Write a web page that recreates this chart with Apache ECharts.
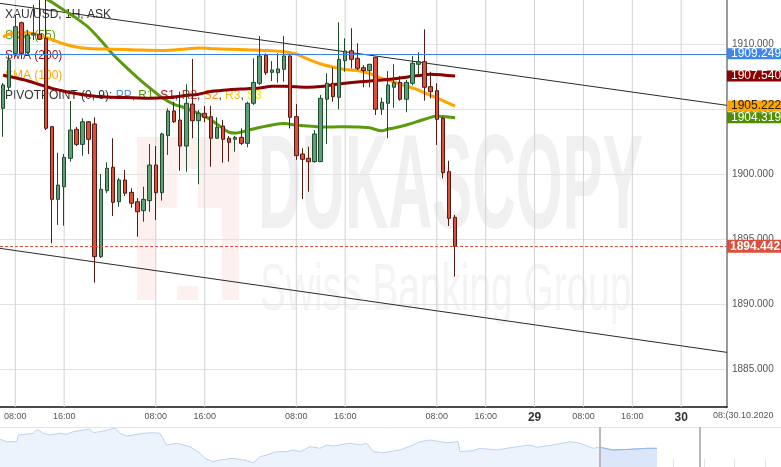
<!DOCTYPE html>
<html><head><meta charset="utf-8">
<script src="https://cdn.jsdelivr.net/npm/echarts/dist/echarts.min.js"></script>
<style>html,body{margin:0;padding:0;background:#fff}#c{width:781px;height:467px}</style>
</head><body><div id="c"></div>
<script>
// ---------- DATA ----------
const categories = [
'23 06:00','23 07:00','23 08:00','23 09:00','23 10:00','23 11:00','23 12:00','23 13:00','23 14:00','23 15:00','23 16:00','23 17:00','23 18:00','23 19:00','23 20:00',
'25 22:00','25 23:00',
'26 00:00','26 01:00','26 02:00','26 03:00','26 04:00','26 05:00','26 06:00','26 07:00','26 08:00','26 09:00','26 10:00','26 11:00','26 12:00','26 13:00','26 14:00','26 15:00','26 16:00','26 17:00','26 18:00','26 19:00','26 20:00','26 22:00','26 23:00',
'27 00:00','27 01:00','27 02:00','27 03:00','27 04:00','27 05:00','27 06:00','27 07:00','27 08:00','27 09:00','27 10:00','27 11:00','27 12:00','27 13:00','27 14:00','27 15:00','27 16:00','27 17:00','27 18:00','27 19:00','27 20:00','27 22:00','27 23:00',
'28 00:00','28 01:00','28 02:00','28 03:00','28 04:00','28 05:00','28 06:00','28 07:00','28 08:00','28 09:00','28 10:00','28 11:00','28 12:00','28 13:00','28 14:00','28 15:00','28 16:00','28 17:00','28 18:00','28 19:00','28 20:00','28 21:00','28 22:00','28 23:00',
'29 00:00','29 01:00','29 02:00','29 03:00','29 04:00','29 05:00','29 06:00','29 07:00','29 08:00','29 09:00','29 10:00','29 11:00','29 12:00','29 13:00','29 14:00','29 15:00','29 16:00','29 17:00','29 18:00','29 19:00','29 20:00','29 21:00','29 22:00','29 23:00',
'30 00:00','30 01:00','30 02:00','30 03:00','30 04:00','30 05:00','30 06:00','30 07:00'
];
const tickCats  = ['23 08:00','23 16:00','26 08:00','26 16:00','27 08:00','27 16:00','28 08:00','28 16:00','29 00:00','29 08:00','29 16:00','30 00:00'];
const tickTexts = ['08:00','16:00','08:00','16:00','08:00','16:00','08:00','16:00','29','08:00','16:00','30'];

const open = [1905.05,1906.67,1909.28,1911.64,1909.36,1910.69,1910.75,1910.44,1903.64,1898.05,
1899.02,1901.21,1903.44,1902.28,1904.02,1903.85,1893.64,1898.72,1900.52,1897.87,
1899.54,1898.59,1897.87,1897.18,1897.95,1900.69,1898.56,1902.95,1904.85,1904.15,
1902.15,1905.38,1904.10,1904.67,1904.41,1902.75,1903.69,1902.75,1902.67,1902.82,
1902.36,1905.44,1906.98,1909.15,1907.82,1907.79,1908.05,1909.08,1904.41,1901.54,
1901.21,1900.95,1900.95,1905.75,1906.98,1905.90,1908.72,1909.48,1908.90,1908.18,
1907.95,1908.98,1904.98,1905.44,1906.67,1907.05,1905.75,1906.98,1908.44,1908.64,
1906.72,1906.41,1904.28,1900.18,1896.67];
const close = [1906.85,1908.77,1911.33,1909.28,1910.69,1910.82,1910.36,1903.52,1898.05,1899.15,
1901.28,1903.38,1902.28,1904.02,1902.67,1893.64,1898.82,1900.44,1897.82,1899.54,
1898.52,1897.75,1897.10,1898.05,1900.69,1898.56,1903.08,1904.85,1904.02,1902.15,
1905.44,1904.10,1904.67,1904.36,1902.75,1903.59,1902.67,1902.44,1902.82,1902.36,
1905.44,1907.05,1909.08,1907.79,1908.00,1908.08,1909.08,1904.36,1901.41,1901.13,
1900.95,1903.08,1905.82,1906.98,1905.95,1908.82,1909.46,1908.82,1908.13,1907.95,
1908.44,1904.98,1905.52,1906.85,1907.02,1905.75,1907.05,1908.52,1908.64,1906.67,
1906.33,1904.21,1900.10,1896.59,1894.44];
const low = [1902.87,1906.46,1909.02,1909.08,1909.15,1910.31,1910.31,1903.38,1894.67,1896.08,
1896.02,1900.95,1902.15,1901.41,1901.54,1891.64,1893.54,1898.52,1896.77,1897.48,
1898.31,1897.41,1895.18,1896.33,1897.10,1896.46,1897.95,1901.46,1903.92,1900.25,
1900.18,1902.75,1899.21,1903.98,1900.56,1902.69,1900.87,1900.95,1901.72,1902.23,
1902.05,1905.31,1906.85,1907.62,1907.15,1907.03,1907.10,1903.51,1901.08,1898.08,
1898.64,1900.87,1900.92,1902.31,1905.56,1904.98,1907.87,1908.13,1908.00,1906.67,
1906.67,1904.54,1904.54,1902.75,1905.10,1905.64,1904.75,1906.82,1907.54,1905.64,
1905.82,1902.23,1899.67,1896.00,1892.10];
const high = [1907.00,1909.15,1912.23,1911.72,1911.08,1913.00,1914.00,1914.00,1903.70,1901.64,
1901.54,1905.62,1903.62,1904.28,1904.08,1904.36,1900.00,1900.90,1902.75,1899.69,
1900.31,1898.90,1898.15,1899.02,1902.31,1902.15,1903.18,1905.05,1905.56,1906.33,
1906.90,1908.85,1904.92,1905.23,1905.25,1904.36,1904.15,1902.92,1902.92,1903.51,
1905.56,1908.90,1910.62,1909.28,1908.69,1909.28,1910.62,1909.15,1905.38,1901.98,
1902.10,1903.38,1906.08,1907.75,1908.20,1911.67,1910.44,1911.21,1910.05,1908.38,
1908.44,1909.00,1905.87,1907.92,1908.44,1907.54,1907.23,1909.08,1909.36,1911.13,
1907.87,1906.98,1904.38,1901.02,1896.85];

const sma55Idx = [6,7,8,10,12,14,16,18,20,22,24,26,28,30,32,34,36,37,38,40,42,44,46,48,50,52,54,56,58,60,62,63,64,66,68,70,71,72,74];
const sma55Val = [1913.90,1913.51,1913.21,1912.59,1911.98,1911.27,1910.28,1909.19,1908.28,1907.42,1906.62,1905.88,1905.36,1905.06,1904.65,1904.18,1903.50,1903.21,1903.15,1903.35,1903.58,1903.77,1903.88,1903.77,1903.69,1903.62,1903.62,1903.64,1903.62,1903.55,1903.32,1903.46,1903.54,1903.77,1904.06,1904.36,1904.46,1904.42,1904.319];
const sma100Idx = [0,2,4,6,8,10,12,14,18,22,26,30,32,34,37,40,42,44,46,48,50,52,54,56,58,60,62,64,66,68,70,72,74];
const sma100Val = [1910.55,1910.86,1910.86,1910.65,1910.34,1910.00,1909.77,1909.65,1909.60,1909.54,1909.50,1909.62,1909.69,1909.65,1909.60,1909.55,1909.52,1909.48,1909.41,1909.23,1908.81,1908.46,1908.23,1908.04,1907.96,1907.73,1907.35,1907.08,1906.77,1906.46,1906.04,1905.65,1905.222];
const sma200Idx = [0,2,4,6,8,10,12,14,17,20,24,27,30,32,34,37,40,42,44,46,48,50,52,54,56,58,60,62,64,66,68,70,72,74];
const sma200Val = [1907.60,1907.40,1907.17,1906.88,1906.59,1906.37,1906.19,1906.04,1905.92,1905.88,1905.82,1905.88,1906.04,1906.14,1906.35,1906.49,1906.56,1906.62,1906.75,1906.75,1906.71,1906.68,1906.73,1906.86,1906.98,1907.08,1907.15,1907.23,1907.32,1907.45,1907.57,1907.67,1907.62,1907.540];

const trendX = [-0.5, 118.5];
const trendUpper = [1913.13, 1905.28];
const trendLower = [1894.28, 1886.28];

const askLevel = 1909.249;
const lastPrice = 1894.442;
const yRange = [1882.077, 1913.385];

const navDay = [0,0.219,0.546,0.598,1.088,1.219,1.415,1.634,1.961,2.180,2.395,2.722,2.941,3.049,3.268,3.595,3.758,3.922,4.141,4.356,4.683,5.010,5.229,5.448,5.775,6.209,6.536,6.699,6.971,7.190,7.624,7.951,8.278,8.497,8.716,9.042,9.369,9.585,9.804,10.131,10.458,10.676,10.892,11.438,11.765,11.984,12.199,12.526,13.072,13.497,13.725,14.052,14.598,14.967,15.033,15.458,15.686,16.232,16.765,17.320,17.549,18.072,18.627,18.954,19.379,19.608,20.033,20.588,21.144,21.471];
const navLevel = [27.7,25.3,25.3,32.0,33.7,37.7,33.7,32.0,33.7,32.7,35.3,37.0,37.7,34.3,35.3,37.7,38.7,33.7,31.0,32.0,33.7,34.3,33.7,22.0,23.7,20.3,13.7,8.7,5.3,7.0,8.7,7.0,4.3,10.3,12.0,15.3,15.3,17.0,15.3,20.3,18.7,22.0,21.0,23.7,22.0,23.7,15.3,14.3,17.0,22.0,25.3,27.0,24.3,25.3,15.3,16.3,18.7,17.0,19.7,22.0,19.7,22.0,25.3,23.7,18.7,19.7,17.0,17.7,18.7,18.7];
const navWindow = [19.608, 22.876];

// ---------- CHART ----------
const FONT = '"Liberation Sans", Arial, sans-serif';
const chart = echarts.init(document.getElementById('c'), null, {renderer: 'canvas'});

const candleData = open.map((o, i) => [o, close[i], low[i], high[i]]);
const pairs = (idx, val) => idx.map((x, i) => [x, val[i]]);
const navData = navDay.map((d, i) => [d, navLevel[i]]);
const navWinData = navData.filter(p => p[0] >= navWindow[0]);
// vertical time-grid segments at labelled categories (broken with '-')
const timeGridData = [];
tickCats.forEach(c => {
  const k = categories.indexOf(c);
  timeGridData.push([k, yRange[0]], [k, yRange[1]], [k, '-']);
});

function valueLabel(bg, fg, bold) {
  return {
    show: true, position: 'end', distance: 0,
    formatter: p => Number(p.value).toFixed(3),
    backgroundColor: bg, color: fg, fontFamily: FONT,
    fontSize: 12, fontWeight: bold ? 'bold' : 'normal',
    padding: bold ? [1, 3, 0, 3] : [1, 4, 0, 4], lineHeight: bold ? 12 : 10
  };
}
function smaSeries(name, idx, val, color, bg, fg) {
  return {
    name, type: 'line', xAxisIndex: 1, yAxisIndex: 0, z: 2,
    data: pairs(idx, val), symbol: 'none', smooth: 0.3,
    lineStyle: {color, width: 3}, silent: true,
    markLine: {
      silent: true, symbol: ['none', 'none'], animation: false, precision: 3,
      lineStyle: {color: 'rgba(0,0,0,0)', width: 0},
      label: valueLabel(bg, fg),
      data: [{yAxis: val[val.length - 1]}]
    }
  };
}

const option = {
  animation: false,
  textStyle: {fontFamily: FONT},
  grid: [
    {left: 0, right: 54, top: 0, bottom: 60, outerBoundsMode: 'none', containLabel: false},
    {left: 0, right: 0, top: 427, height: 40, outerBoundsMode: 'none', containLabel: false}
  ],
  xAxis: [
    {
      type: 'category', gridIndex: 0, data: categories, boundaryGap: true,
      axisLine: {show: true, onZero: false, lineStyle: {color: '#111', width: 1.5}},
      axisTick: {show: false},
      axisLabel: {
        interval: (i, v) => tickCats.indexOf(v) >= 0,
        formatter: v => { const t = tickTexts[tickCats.indexOf(v)]; return t.length === 2 ? '{d|' + t + '}' : t; },
        color: '#555', fontSize: 9, margin: 5, fontFamily: FONT,
        rich: {d: {fontSize: 12, fontWeight: 'bold', color: '#333', fontFamily: FONT}}
      },
      splitLine: {show: false}
    },
    {type: 'value', gridIndex: 0, min: -0.5, max: 118.5, show: false,
      axisLine: {show: false, onZero: false}, splitLine: {show: false}},
    {
      type: 'value', gridIndex: 1, min: 0, max: 25.523, interval: 1,
      axisLine: {show: false, onZero: false}, axisLabel: {show: false}, splitLine: {show: false},
      axisTick: {show: true, inside: true, length: 8, lineStyle: {color: '#e2e2e2'}}
    }
  ],
  yAxis: [
    {
      type: 'value', gridIndex: 0, position: 'right', min: yRange[0], max: yRange[1], scale: true,
      axisLine: {show: true, onZero: false, lineStyle: {color: '#9a9a9a', width: 2}},
      axisTick: {show: false},
      axisLabel: {color: '#555', fontSize: 10, margin: 5, fontFamily: FONT,
        showMinLabel: false, showMaxLabel: false, formatter: v => v.toFixed(3)},
      splitLine: {show: true, showMinLine: false, showMaxLine: false, lineStyle: {color: '#e2e2e2', width: 1}}
    },
    {type: 'value', gridIndex: 1, min: 0, max: 40, show: false,
      axisLine: {show: false, onZero: false}, splitLine: {show: false}}
  ],
  series: [
    {
      name: 'time grid', type: 'line', xAxisIndex: 1, yAxisIndex: 0, z: 1, silent: true,
      data: timeGridData, symbol: 'none', connectNulls: false,
      lineStyle: {color: '#d2d2d2', width: 1}
    },
    {
      name: 'trend upper', type: 'line', xAxisIndex: 1, yAxisIndex: 0, z: 2, silent: true,
      data: pairs(trendX, trendUpper), symbol: 'none', lineStyle: {color: '#2a2a2a', width: 1}
    },
    {
      name: 'trend lower', type: 'line', xAxisIndex: 1, yAxisIndex: 0, z: 2, silent: true,
      data: pairs(trendX, trendLower), symbol: 'none', lineStyle: {color: '#2a2a2a', width: 1}
    },
    smaSeries('SMA (55)', sma55Idx, sma55Val, '#5a9b0c', '#4f8e00', '#fff'),
    smaSeries('SMA (100)', sma100Idx, sma100Val, '#ffa500', '#ffa500', '#222'),
    smaSeries('SMA (200)', sma200Idx, sma200Val, '#8b0000', '#8b0000', '#fff'),
    {
      name: 'XAU/USD', type: 'candlestick', xAxisIndex: 0, yAxisIndex: 0, z: 3,
      data: candleData, barWidth: 4, clip: true,
      itemStyle: {color: '#5f9e77', color0: '#d9503c', borderColor: '#1d4d2a', borderColor0: '#561a12', borderWidth: 1},
      markLine: {
        silent: true, symbol: ['none', 'none'], animation: false, precision: 3,
        data: [
          {yAxis: askLevel, lineStyle: {color: '#3a80ea', width: 1, type: 'solid'}, label: valueLabel('#3d86ee', '#fff')},
          {yAxis: lastPrice, lineStyle: {color: '#d9533e', width: 1, type: [3, 2]}, label: valueLabel('#db4f3b', '#fff', true)}
        ]
      }
    },
    {
      name: 'nav', type: 'line', xAxisIndex: 2, yAxisIndex: 1, z: 1, silent: true,
      data: navData, symbol: 'none',
      lineStyle: {color: '#bcd2f2', width: 1}, areaStyle: {color: '#edf3fc', opacity: 1}
    },
    {
      name: 'nav window', type: 'line', xAxisIndex: 2, yAxisIndex: 1, z: 1, silent: true,
      data: navWinData, symbol: 'none',
      lineStyle: {color: '#8fb3ec', width: 1}, areaStyle: {color: '#dbe7f9', opacity: 1},
      markLine: {
        silent: true, symbol: ['none', 'none'], label: {show: false}, animation: false,
        lineStyle: {color: '#b8b8b8', width: 2, type: 'solid'},
        data: navWindow.map(v => ({xAxis: v}))
      }
    }
  ],
  graphic: [
    // watermark logo
    {type: 'rect', z: -10, silent: true, shape: {x: 137, y: 137, width: 102, height: 163}, style: {fill: '#fdf1f0'}},
    {type: 'rect', z: -9, silent: true, shape: {x: 156, y: 208, width: 21, height: 92}, style: {fill: '#fff'}},
    {type: 'rect', z: -9, silent: true, shape: {x: 177, y: 169, width: 21, height: 117}, style: {fill: '#fff'}},
    {type: 'rect', z: -9, silent: true, shape: {x: 198, y: 208, width: 24, height: 92}, style: {fill: '#fff'}},
    {type: 'text', z: -8, silent: true, x: 258, y: 191, scaleX: 0.453,
      style: {text: 'DUKASCOPY', font: 'bold 133px ' + FONT, fill: '#f0f0f0', align: 'left', verticalAlign: 'middle'}},
    {type: 'text', z: -8, silent: true, x: 260, y: 292, scaleX: 0.58,
      style: {text: 'Swiss Banking Group', font: '67px ' + FONT, fill: '#f4f4f4', align: 'left', verticalAlign: 'middle'}},
    // legend
    {type: 'text', z: 1, silent: true, x: 5, y: 15, style: {text: 'XAU/USD, 1H, ASK', font: '12px ' + FONT, fill: '#333', verticalAlign: 'middle'}},
    {type: 'text', z: 1, silent: true, x: 5, y: 36, style: {text: 'SMA (55)', font: '12px ' + FONT, fill: '#5a9b0c', verticalAlign: 'middle'}},
    {type: 'text', z: 1, silent: true, x: 5, y: 56, style: {text: 'SMA (200)', font: '12px ' + FONT, fill: '#9b1010', verticalAlign: 'middle'}},
    {type: 'text', z: 1, silent: true, x: 5, y: 76, style: {text: 'SMA (100)', font: '12px ' + FONT, fill: '#ffa500', verticalAlign: 'middle'}},
    {type: 'text', z: 1, silent: true, x: 5, y: 96, style: {
      text: '{k|PIVOTPOINT (0, 9): }{pp|PP}{k|, }{r1|R1}{k|, }{s1|S1}{k|, }{r2|R2}{k|, }{s2|S2}{k|, }{r3|R3}{k|, }{s3|S3}',
      font: '12px ' + FONT, verticalAlign: 'middle',
      rich: {
        k: {fill: '#333', font: '12px ' + FONT}, pp: {fill: '#4f94ec', font: '12px ' + FONT},
        r1: {fill: '#4e9a06', font: '12px ' + FONT}, s1: {fill: '#b01212', font: '12px ' + FONT},
        r2: {fill: '#e8231c', font: '12px ' + FONT}, s2: {fill: '#ff8c1a', font: '12px ' + FONT},
        r3: {fill: '#ffc20e', font: '12px ' + FONT}, s3: {fill: '#f2e600', font: '12px ' + FONT}
      }}},
    // right-bottom time label
    {type: 'text', z: 5, silent: true, x: 713, y: 416, style: {text: '08:(30.10.2020', font: '9px ' + FONT, fill: '#555', verticalAlign: 'middle'}},
    // navigator top border
    {type: 'line', z: 5, silent: true, shape: {x1: 0, y1: 427.5, x2: 781, y2: 427.5}, style: {stroke: '#e3e3e3', lineWidth: 1}}
  ]
};
chart.setOption(option);
</script></body></html>
